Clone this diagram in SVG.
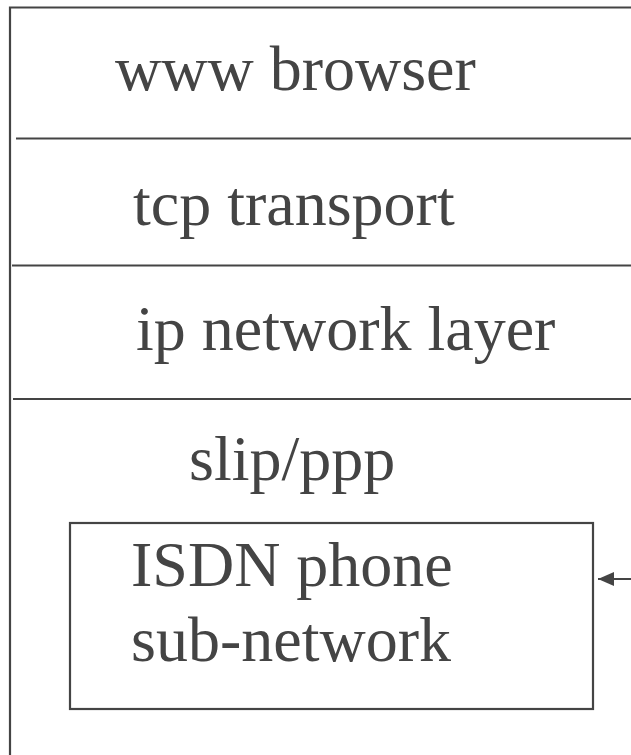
<svg xmlns="http://www.w3.org/2000/svg" width="631" height="755" viewBox="0 0 631 755">
<style>
.ln{stroke:#444;stroke-width:2.2;fill:none}
.t{font-family:"Liberation Serif","Times New Roman",serif;font-size:64px;fill:#444}
</style>
<defs>
<marker id="ah" markerWidth="16" markerHeight="14" refX="16" refY="7" orient="auto" markerUnits="userSpaceOnUse">
<path d="M0,0 L16,7 L0,14 z" fill="#444"/>
</marker>
</defs>
<rect width="631" height="755" fill="#fff"/>
<g id="stack">
<path class="ln" d="M631,7.5 H10 V755"/>
<line class="ln" x1="16" y1="138.5" x2="631" y2="138.5"/>
<line class="ln" x1="12" y1="265.5" x2="631" y2="265.5"/>
<line class="ln" x1="13" y1="399" x2="631" y2="399"/>
</g>
<g id="www"><text class="t" x="115" y="90">www browser</text></g>
<g id="tcp"><text class="t" x="133" y="225">tcp transport</text></g>
<g id="ip"><text class="t" x="136" y="350">ip network layer</text></g>
<g id="slip"><text class="t" x="189" y="480">slip/ppp</text></g>
<g id="isdn">
<rect class="ln" x="70" y="523" width="523" height="186"/>
<text class="t" x="131" y="586">ISDN phone</text>
<text class="t" x="131" y="661">sub-network</text>
</g>
<g id="connectors">
<line class="ln" x1="631" y1="579" x2="598" y2="579" marker-end="url(#ah)"/>
</g>
</svg>
